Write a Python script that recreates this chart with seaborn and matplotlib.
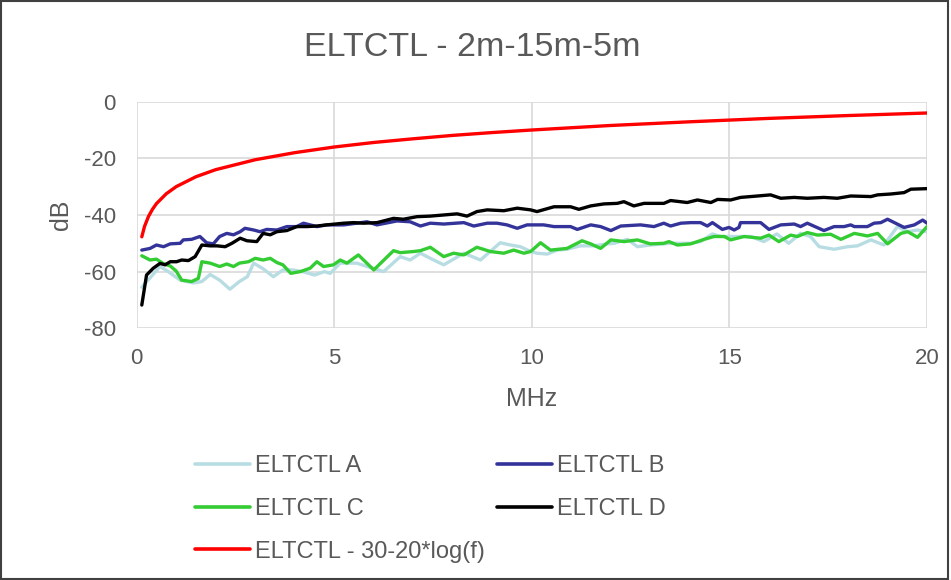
import matplotlib
matplotlib.use("Agg")
from matplotlib import pyplot as plt
from matplotlib.lines import Line2D
from matplotlib.patches import Rectangle
import seaborn as sns
import pandas as pd

# values (MHz, dB)
freq_a = [0.13, 0.35, 0.59, 0.8, 1.1, 1.44, 1.65, 1.86, 2.1, 2.36, 2.6, 2.8, 2.96, 3.2, 3.46, 3.7, 3.95, 4.2, 4.5, 4.75, 4.9,
          5.15, 5.57, 5.83, 6.25, 6.67, 6.92, 7.18, 7.43, 7.77, 8.28, 8.7, 9.2, 9.46, 9.71, 9.97,
          10.13, 10.39, 10.64, 10.89, 11.23, 11.57, 11.91, 12.08, 12.42, 12.67, 13.0, 13.51, 14.02, 14.27, 14.57, 14.78,
          15.03, 15.54, 15.87, 16.2, 16.5, 16.8, 17.05, 17.27, 17.65, 17.99, 18.24, 18.58, 18.91, 19.25, 19.51, 19.76, 20.0]
db_a = [-65.5, -62.0, -58.2, -60.0, -63.0, -64.0, -63.5, -61.0, -63.0, -66.2, -63.5, -61.8, -57.0, -59.0, -61.8, -59.4, -59.4, -60.0, -61.2, -60.0, -60.6,
        -57.0, -57.0, -58.2, -60.0, -54.7, -55.9, -53.5, -55.3, -57.6, -53.5, -55.9, -49.8, -50.6, -51.2, -52.9,
        -53.5, -53.8, -52.4, -52.1, -50.9, -50.9, -50.2, -50.0, -48.6, -51.2, -50.6, -50.0, -50.0, -49.4, -46.7, -47.6,
        -47.6, -47.6, -49.4, -46.7, -50.0, -46.5, -47.6, -51.2, -52.1, -51.2, -50.9, -48.8, -50.6, -44.1, -45.9, -45.3, -45.9]

freq_b = [0.13, 0.34, 0.5, 0.68, 0.85, 1.1, 1.18, 1.39, 1.6, 1.77, 1.94, 2.1, 2.28, 2.45, 2.62, 2.74, 2.96, 3.12, 3.29, 3.55, 3.8, 4.05, 4.22, 4.39, 4.56, 4.81,
          5.24, 5.57, 5.83, 6.08, 6.59, 6.92, 7.18, 7.43, 7.77, 8.28, 8.53, 8.87, 9.12, 9.37, 9.63, 9.88,
          10.3, 10.56, 10.98, 11.15, 11.49, 11.74, 12.0, 12.25, 12.75, 13.09, 13.34, 13.51, 13.77, 14.02, 14.27, 14.44, 14.57, 14.82, 14.99, 15.12,
          15.24, 15.28, 15.79, 16.0, 16.3, 16.64, 16.8, 16.97, 17.39, 17.65, 17.9, 18.07, 18.16, 18.49, 18.66, 18.83, 19.0, 19.42, 19.68, 19.89, 20.0]
db_b = [-52.4, -51.8, -50.6, -51.2, -50.2, -50.0, -48.8, -48.6, -47.6, -49.8, -50.2, -47.6, -46.5, -47.0, -45.9, -44.7, -45.3, -45.9, -45.1, -45.3, -44.1, -44.1, -42.9, -43.5, -44.1, -43.5,
        -43.5, -42.9, -42.4, -43.5, -42.1, -42.4, -43.9, -42.9, -43.2, -42.7, -43.9, -42.9, -42.9, -43.5, -44.7, -43.5,
        -43.5, -44.1, -44.1, -45.1, -43.5, -44.1, -45.5, -43.9, -43.5, -44.1, -42.9, -43.9, -42.9, -42.7, -42.7, -43.9, -42.7, -45.1, -44.4, -45.3,
        -44.4, -42.7, -42.7, -45.1, -43.5, -43.2, -44.1, -42.9, -45.5, -44.1, -44.1, -43.5, -44.1, -44.1, -42.9, -42.7, -41.5, -44.4, -43.5, -41.8, -42.9]

freq_c = [0.13, 0.34, 0.5, 0.68, 0.85, 1.0, 1.14, 1.39, 1.56, 1.65, 1.86, 2.1, 2.28, 2.45, 2.6, 2.83, 3.0, 3.2, 3.38, 3.55, 3.7, 3.9, 4.14, 4.39, 4.56, 4.73, 4.98,
          5.15, 5.32, 5.61, 6.0, 6.5, 6.67, 7.01, 7.18, 7.43, 7.77, 8.02, 8.28, 8.61, 8.95, 9.29, 9.54, 9.8, 9.97,
          10.22, 10.47, 10.89, 11.06, 11.27, 11.49, 11.74, 12.0, 12.33, 12.67, 13.0, 13.34, 13.47, 13.68, 14.02, 14.36, 14.61, 14.87, 15.03,
          15.37, 15.79, 16.0, 16.25, 16.55, 16.72, 16.97, 17.23, 17.56, 17.82, 18.16, 18.49, 18.75, 19.0, 19.34, 19.51, 19.76, 20.0]
db_c = [-54.4, -55.9, -55.6, -57.2, -58.0, -59.8, -63.0, -63.5, -62.4, -56.5, -57.0, -58.2, -57.3, -58.2, -57.0, -56.5, -55.3, -55.9, -55.3, -56.8, -57.6, -60.6, -60.0, -58.8, -56.5, -58.2, -57.6,
        -55.9, -57.0, -54.1, -59.4, -52.6, -53.3, -52.9, -52.6, -51.4, -54.7, -53.5, -54.1, -51.4, -52.9, -53.5, -52.4, -53.5, -52.9,
        -49.8, -52.4, -51.8, -50.6, -49.1, -50.2, -51.8, -48.8, -49.4, -48.8, -50.2, -50.0, -49.4, -50.6, -50.2, -48.6, -47.6, -47.6, -48.8,
        -47.6, -48.2, -47.1, -49.4, -47.1, -47.6, -46.2, -47.1, -46.8, -48.6, -46.5, -47.4, -46.5, -50.2, -46.5, -45.9, -47.9, -44.1]

freq_d = [0.13, 0.25, 0.42, 0.59, 0.72, 0.85, 1.01, 1.14, 1.31, 1.48, 1.65, 1.86, 2.03, 2.24, 2.41, 2.62, 2.79, 3.04, 3.2, 3.38, 3.55, 3.8, 4.05, 4.31, 4.56, 4.81,
          5.24, 5.49, 5.74, 6.08, 6.5, 6.75, 7.09, 7.43, 7.77, 8.11, 8.36, 8.61, 8.87, 9.29, 9.63, 9.97,
          10.13, 10.56, 10.98, 11.19, 11.49, 11.82, 12.16, 12.33, 12.58, 12.84, 13.34, 13.51, 13.93, 14.19, 14.53, 14.7, 15.03,
          15.28, 15.71, 16.04, 16.3, 16.64, 16.97, 17.39, 17.73, 18.07, 18.58, 18.75, 19.08, 19.42, 19.59, 20.0]
db_d = [-71.8, -61.2, -58.8, -57.1, -57.6, -56.5, -56.5, -55.9, -56.1, -54.7, -50.6, -50.9, -50.9, -51.2, -50.0, -48.2, -49.1, -49.4, -46.5, -47.0, -45.9, -45.5, -44.1, -44.1, -43.9, -43.5,
        -42.9, -42.7, -42.9, -42.7, -41.2, -41.5, -40.6, -40.4, -40.0, -39.6, -40.4, -38.8, -38.2, -38.5, -37.6, -38.2,
        -38.8, -37.1, -37.1, -38.0, -36.8, -36.1, -35.9, -35.3, -36.8, -35.9, -35.9, -34.9, -35.6, -34.7, -35.6, -34.5, -34.7,
        -33.8, -33.3, -32.9, -34.1, -33.8, -34.1, -33.8, -34.1, -33.3, -33.5, -32.9, -32.6, -32.1, -30.9, -30.7]

freq_lim = [0.13, 0.2, 0.3, 0.4, 0.5, 0.75, 1, 1.5, 2, 3, 4, 5, 6, 7, 8, 9, 10, 12, 14, 16, 18, 20]
db_lim = [-47.7, -44.0, -40.5, -38.0, -36.0, -32.5, -30.0, -26.5, -24.0, -20.5, -18.0, -16.0, -14.4, -13.1, -11.9, -10.9, -10.0, -8.4, -7.1, -5.9, -4.9, -4.0]

series = [
    ("ELTCTL A", freq_a, db_a, "#b7dde3"),
    ("ELTCTL B", freq_b, db_b, "#333399"),
    ("ELTCTL C", freq_c, db_c, "#33cc33"),
    ("ELTCTL D", freq_d, db_d, "#000000"),
    ("ELTCTL - 30-20*log(f)", freq_lim, db_lim, "#ff0000"),
]

sns.set_style("white")
plt.rcParams['font.family'] = ['Liberation Sans', 'DejaVu Sans']
plt.rcParams['axes.unicode_minus'] = False
text_color = "#595959"

fig = plt.figure(figsize=(9.51, 5.80), dpi=100)
ax = fig.add_axes([0.1437, 0.434, 0.8311, 0.3907])

handles = {}
for name, f, v, c in series:
    df = pd.DataFrame({"MHz": f, "dB": v})
    sns.lineplot(data=df, x="MHz", y="dB", ax=ax, color=c, linewidth=2.4, estimator=None, sort=False)
    handles[name] = Line2D([0], [0], color=c, linewidth=2.6, solid_capstyle="round")

ax.set_xlim(0, 20)
ax.set_ylim(-80, 0)
ax.set_xticks([0, 5, 10, 15, 20])
ax.set_yticks([0, -20, -40, -60, -80])
ax.grid(True, color="#d9d9d9", linewidth=1.2)
ax.set_axisbelow(True)
for s in ax.spines.values():
    s.set_visible(False)
ax.tick_params(axis="both", length=0, labelsize=16, labelcolor=text_color)
ax.tick_params(axis="x", pad=14)
ax.tick_params(axis="y", pad=15)
ax.set_xlabel("MHz", fontsize=18, color=text_color, labelpad=13)
ax.set_ylabel("dB", fontsize=18, color=text_color, labelpad=8)
fig.text(0.497, 1 - 48 / 580, "ELTCTL - 2m-15m-5m", fontsize=24.5, color=text_color,
         ha="center", va="center")

order = ["ELTCTL A", "ELTCTL C", "ELTCTL - 30-20*log(f)", "ELTCTL B", "ELTCTL D"]
fig.legend([handles[k] for k in order], order, ncol=2, loc="upper left",
           bbox_to_anchor=(0.195, 0.231), frameon=False, fontsize=17,
           labelcolor=text_color, handlelength=2.35, handletextpad=0.2,
           columnspacing=0.5, labelspacing=0.87, borderaxespad=0)

fig.patches.append(Rectangle((0.001, 0.002), 0.996, 0.996, transform=fig.transFigure,
                             fill=False, edgecolor="#404040", linewidth=1.5))

fig.savefig("out.png", dpi=100)
